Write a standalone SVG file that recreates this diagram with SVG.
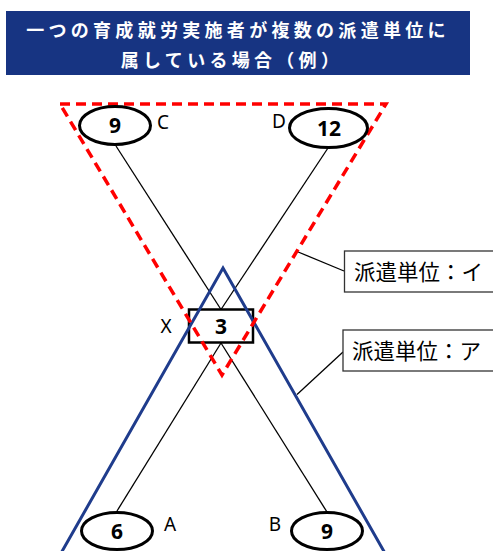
<svg xmlns="http://www.w3.org/2000/svg" width="493" height="551" viewBox="0 0 493 551">
<defs>
<style>
.title{font-family:"Noto Sans CJK JP","Noto Sans",sans-serif;font-weight:bold;font-size:18px;fill:#fff;letter-spacing:4.3px;text-anchor:middle}
.num{font-family:"Noto Sans","Open Sans",sans-serif;font-weight:bold;font-size:21px;fill:#000;text-anchor:middle}
.lbl{font-family:"Noto Sans","Open Sans",sans-serif;font-size:19px;fill:#000;text-anchor:middle}
.jp{font-family:"Noto Sans CJK JP",sans-serif;font-size:21.5px;fill:#000}
.node{fill:#fff;stroke:#000;stroke-width:3}
.conn{stroke:#000;stroke-width:1.3;fill:none}
.callout{fill:#fff;stroke:#333;stroke-width:1.3}
</style>
</defs>
<rect width="493" height="551" fill="#fff"/>
<g id="title">
<rect x="6" y="11" width="464" height="64" fill="#173482"/>
<text class="title" x="238" y="37">一つの育成就労実施者が複数の派遣単位に</text>
<text class="title" x="232" y="67">属している場合（例）</text>
</g>
<g id="connectors">
<line class="conn" x1="116" y1="146" x2="221" y2="309.5"/>
<line class="conn" x1="328" y1="148" x2="221" y2="309.5"/>
<line class="conn" x1="221" y1="343" x2="117" y2="511"/>
<line class="conn" x1="221" y1="343" x2="327" y2="512"/>
<line class="conn" x1="297" y1="251.5" x2="344" y2="271"/>
<line class="conn" x1="297" y1="394.5" x2="343" y2="352"/>
</g>
<g id="nodeX">
<rect x="189" y="309.5" width="64" height="33" fill="none" stroke="#000" stroke-width="2.5"/>
<text class="num" x="221" y="334">3</text>
<text class="lbl" x="166" y="333">X</text>
</g>
<g id="unitA">
<polyline points="56,562 223,268 390,562" fill="none" stroke="#1f3c8c" stroke-width="3"/>
</g>
<g id="unitI">
<polygon points="60,104 386,104 222,375" fill="none" stroke="#ff0000" stroke-width="3.5" stroke-dasharray="10,6"/>
</g>
<g id="nodeC">
<ellipse class="node" cx="115" cy="125.5" rx="35.5" ry="19"/>
<text class="num" x="115" y="133">9</text>
<text class="lbl" x="163" y="129">C</text>
</g>
<g id="nodeD">
<ellipse class="node" cx="328.5" cy="128" rx="39" ry="19.5"/>
<text class="num" x="329" y="135.5">12</text>
<text class="lbl" x="279" y="128">D</text>
</g>
<g id="nodeA">
<ellipse class="node" cx="117" cy="531" rx="35.5" ry="18.5"/>
<text class="num" x="117" y="538.5">6</text>
<text class="lbl" x="170" y="531">A</text>
</g>
<g id="nodeB">
<ellipse class="node" cx="327" cy="531" rx="35.5" ry="18.5"/>
<text class="num" x="327" y="538.5">9</text>
<text class="lbl" x="275" y="531">B</text>
</g>
<g id="calloutI">
<rect class="callout" x="344.5" y="251" width="160" height="41"/>
<text class="jp" x="354" y="279.5">派遣単位：イ</text>
</g>
<g id="calloutA">
<rect class="callout" x="343" y="330" width="160" height="41"/>
<text class="jp" x="352" y="358.5">派遣単位：ア</text>
</g>
</svg>
